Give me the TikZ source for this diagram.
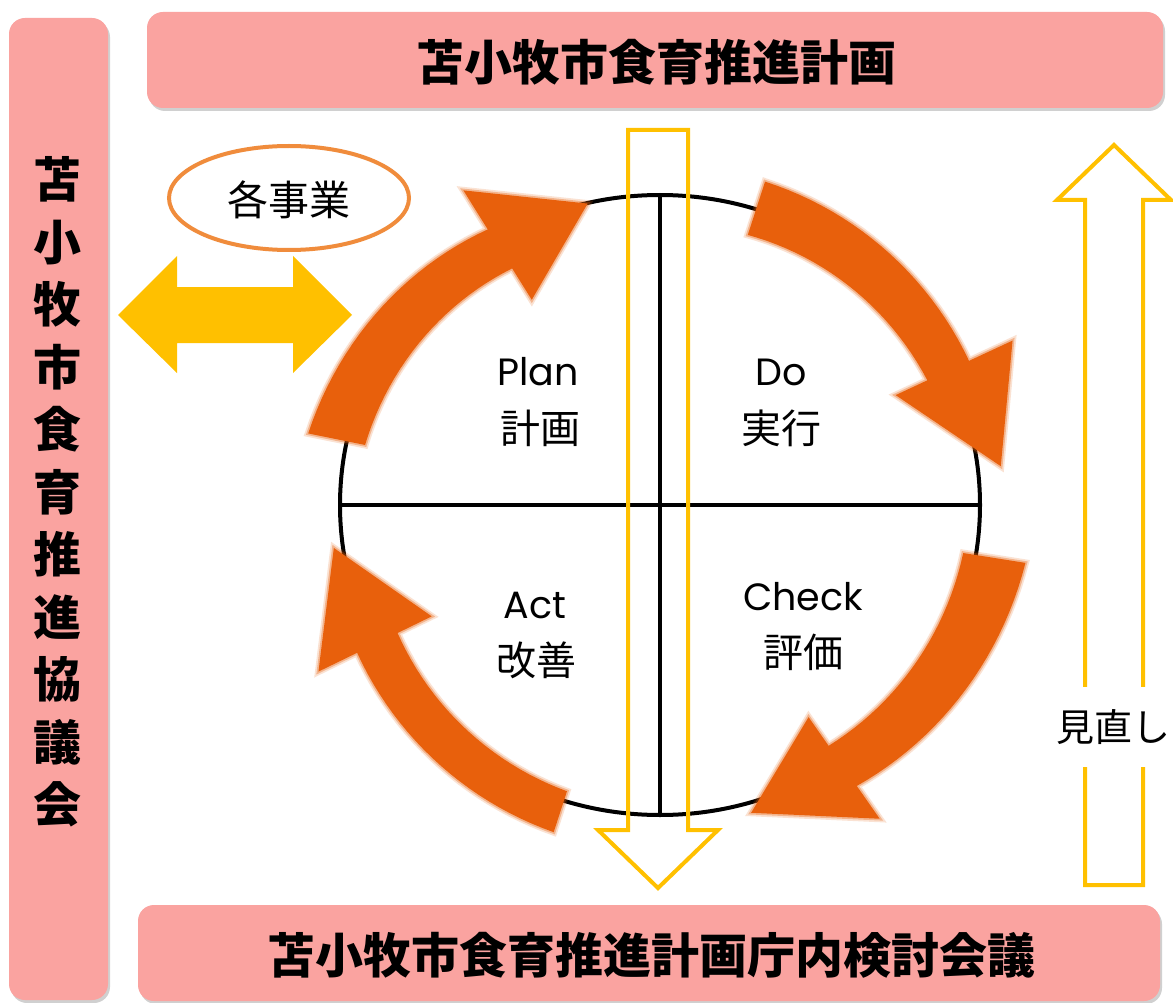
\documentclass[tikz,border=0pt]{standalone}
\usepackage{fontspec}
\setmainfont{Noto Sans CJK JP}
\newfontfamily\latinfont{Poppins}
\usetikzlibrary{shadows}
\definecolor{bannerpink}{RGB}{250,163,160}
\definecolor{pdcaorange}{RGB}{232,96,12}
\definecolor{gold}{RGB}{255,192,0}
\definecolor{ellorange}{RGB}{240,140,60}
% #1 tail angle, #2 neck angle, #3/#4 tail inner/outer radius,
% #5/#6 neck inner/outer radius, #7/#8 barb inner/outer radius, #9 tip radius
\newcommand{\pdcaarrow}[9]{%
  \fill[pdcafill] (#1:#4)
    -- plot[domain=0:1, samples=24, variable=\t] ({#1+(#2-#1)*\t}:{#4+(#6-#4)*\t})
    -- (#2:#8) -- ({#2+18.5}:#9) -- (#2:#7)
    -- plot[domain=1:0, samples=24, variable=\t] ({#1+(#2-#1)*\t}:{#3+(#5-#3)*\t})
    -- cycle;}
\begin{document}
\begin{tikzpicture}[x=1pt,y=-1pt,
  banner/.style={fill=bannerpink, rounded corners=16pt,
    drop shadow={shadow xshift=2pt, shadow yshift=-3pt, opacity=0.3, fill=black!60}},
  bannertext/.style={font=\fontsize{48}{58}\selectfont\bfseries},
  pdcafill/.style={fill=pdcaorange,
    preaction={draw=pdcaorange, line width=7pt, opacity=0.18},
    preaction={draw=pdcaorange, line width=3.5pt, opacity=0.35}},
  latinlabel/.style={font=\latinfont\fontsize{38}{44}\selectfont},
  cjklabel/.style={font=\fontsize{40}{46}\selectfont},
  outlinearrow/.style={draw=gold, line width=4pt, line join=miter},
  circline/.style={draw=black, line width=4pt}]
\useasboundingbox (0,0) rectangle (1173,1003);
\fill[white] (0,0) rectangle (1173,1003);

% banners
\path[banner] (9,18) rectangle (108,1000);
\path[banner] (147,12) rectangle (1163,108);
\path[banner] (138,905) rectangle (1160,1001);
\node[bannertext] (toptitle) at (656,62) {苫小牧市食育推進計画};
\node[bannertext] (bottomtitle) at (651,955) {苫小牧市食育推進計画庁内検討会議};
\node[font=\fontsize{48}{62.5}\selectfont\bfseries, align=center, inner sep=0pt]
  (lefttitle) at (58,492) {苫\\小\\牧\\市\\食\\育\\推\\進\\協\\議\\会};

% each project ellipse
\draw[draw=ellorange, line width=4pt] (289,198) ellipse [x radius=120, y radius=52];
\node[font=\fontsize{41}{46}\selectfont] (kakujigyo) at (289,200) {各事業};

% double arrow
\fill[gold] (118,315) -- (177,256) -- (177,287) -- (293,287) -- (293,256)
  -- (352,315) -- (293,373) -- (293,343) -- (177,343) -- (177,373) -- cycle;

% circle and cross
\coordinate (c) at (660,505);
\coordinate (cl) at (340,505);
\coordinate (cr) at (980,505);
\coordinate (ct) at (660,195);
\coordinate (cb) at (660,815);
\draw[circline] (c) ellipse [x radius=320, y radius=310];
\draw[circline] (cl) -- (cr);
\draw[circline] (ct) -- (cb);

% PDCA arrows
\begin{scope}[shift={(c)}]
  \pdcaarrow{191.5}{238}{301}{359}{279}{325}{242}{371}{310}
  \pdcaarrow{288}{335}{284}{340}{295}{341}{260}{389}{343}
  \pdcaarrow{9}{55}{307}{370}{294}{343}{259}{383}{321}
  \pdcaarrow{108}{154}{301}{344}{292}{337}{254}{380}{329}
\end{scope}

% down arrow
\draw[outlinearrow] (628,130) -- (688,130) -- (688,830) -- (718,830)
  -- (658,888) -- (598,830) -- (628,830) -- cycle;

% labels
\node[latinlabel] (plan) at (538,372) {Plan};
\node[cjklabel] (plan2) at (540,428) {計画};
\node[latinlabel] (do) at (781,372) {Do};
\node[cjklabel] (do2) at (781,428) {実行};
\node[latinlabel] (act) at (535,606) {Act};
\node[cjklabel] (act2) at (536,660) {改善};
\node[latinlabel] (check) at (803,597) {Check};
\node[cjklabel] (check2) at (803,652) {評価};

% review arrow
\draw[outlinearrow] (1085,885) -- (1085,200) -- (1057,200) -- (1114,145)
  -- (1171,200) -- (1143,200) -- (1143,885) -- cycle;
\node[fill=white, font=\fontsize{38}{44}\selectfont, inner xsep=1pt, inner ysep=22pt]
  (minaoshi) at (1113,727) {見直し};
\end{tikzpicture}
\end{document}
